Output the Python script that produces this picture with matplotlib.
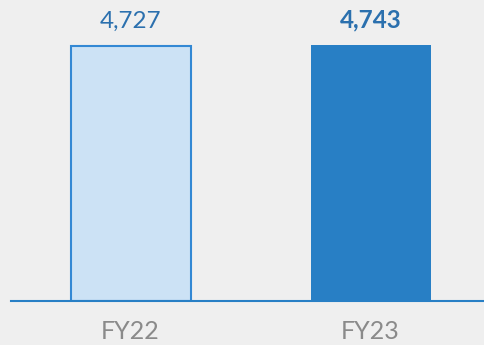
import matplotlib
matplotlib.use("Agg")
import matplotlib.pyplot as plt

categories = ["FY22", "FY23"]
values = [4727, 4743]
value_labels = ["4,727", "4,743"]

bg = "#efefef"
blue = "#287fc5"
light = "#cce2f5"
label_col = "#2b70ae"
tick_col = "#8a8a8a"

plt.rcParams["font.family"] = ["Lato", "DejaVu Sans"]

fig = plt.figure(figsize=(4.85, 3.45), dpi=100, facecolor=bg)
ax = fig.add_axes([11 / 485, 44 / 345, 474 / 485, 301 / 345])
ax.set_facecolor(bg)

x = list(range(len(categories)))
ax.bar(x[0], values[0], width=0.5, color=light, edgecolor="#3388d4", linewidth=1.5)
ax.bar(x[1], values[1], width=0.5, color=blue, edgecolor="none")

ax.set_xlim(-0.498, 1.477)
ax.set_ylim(0, 4743 * 301 / 256)

for xi, v, lab, w in zip(x, values, value_labels, ["normal", "bold"]):
    ax.annotate(lab, (xi, v), xytext=(0, 10), textcoords="offset points",
                ha="center", va="bottom", fontsize=17.5, color=label_col,
                fontweight=w)

for s in ["top", "right", "left"]:
    ax.spines[s].set_visible(False)
ax.spines["bottom"].set_color(blue)
ax.spines["bottom"].set_linewidth(1.5)
ax.set_yticks([])
ax.set_xticks(x)
ax.set_xticklabels(categories, fontsize=18, color=tick_col)
ax.tick_params(axis="x", length=0, pad=14)

fig.savefig("out.png", dpi=100, facecolor=bg)
